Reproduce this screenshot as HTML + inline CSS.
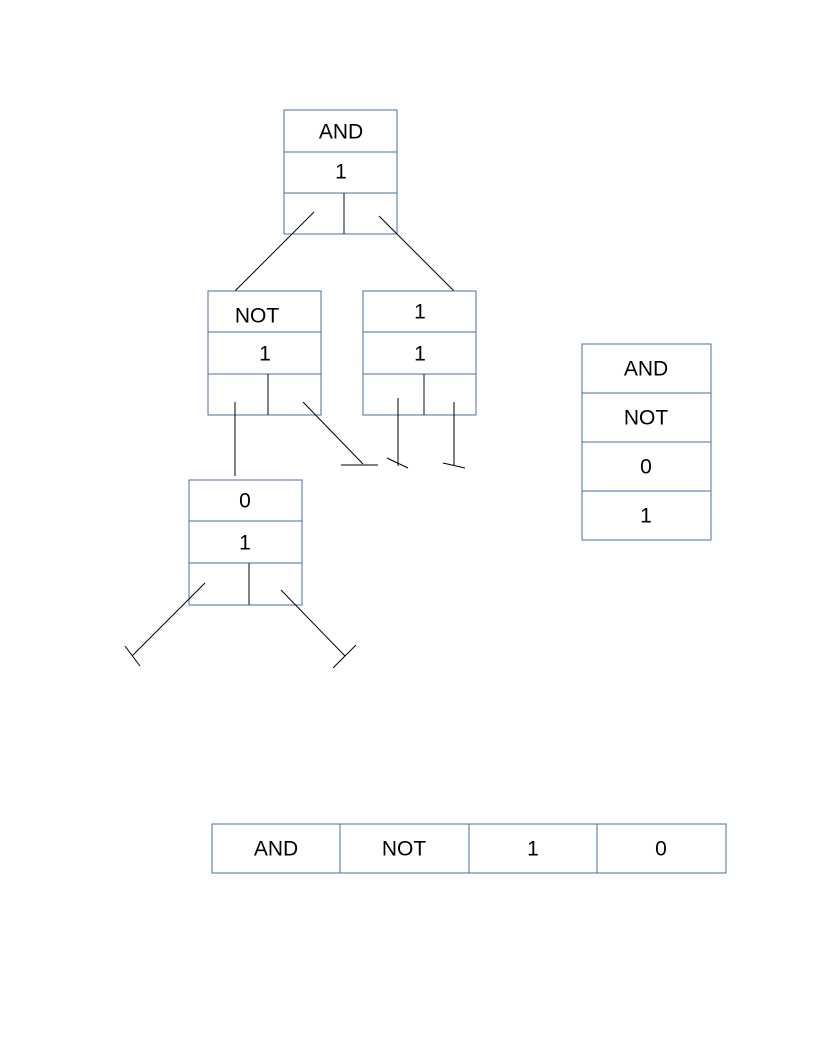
<!DOCTYPE html>
<html><head><meta charset="utf-8"><style>
html,body{margin:0;padding:0;background:#fff}
svg{display:block}
text{font-family:"Liberation Sans",sans-serif;font-size:21px;fill:#000;text-anchor:middle;dominant-baseline:central}
.b{fill:#fff;stroke:#4a6fa5;stroke-width:1}
.l{stroke:#000;stroke-width:1;fill:none}
.d{stroke:#333;stroke-width:1.2}
</style></head><body>
<svg width="816" height="1056" viewBox="0 0 816 1056">
<g>
<rect class="b" x="284" y="110" width="113" height="124"/>
<line class="b" x1="284" y1="152" x2="397" y2="152"/>
<line class="b" x1="284" y1="193" x2="397" y2="193"/>
<line class="d" x1="344" y1="193" x2="344" y2="234"/>
<text x="341" y="132">AND</text><text x="341" y="172">1</text>
</g>
<line class="l" x1="314" y1="212" x2="235" y2="291"/>
<line class="l" x1="379" y1="216" x2="454" y2="291"/>
<g>
<rect class="b" x="208" y="291" width="113" height="124"/>
<line class="b" x1="208" y1="332" x2="321" y2="332"/>
<line class="b" x1="208" y1="374" x2="321" y2="374"/>
<line class="d" x1="268" y1="374" x2="268" y2="415"/>
<text x="257" y="316">NOT</text><text x="265" y="354">1</text>
</g>
<g>
<rect class="b" x="363" y="291" width="113" height="124"/>
<line class="b" x1="363" y1="332" x2="476" y2="332"/>
<line class="b" x1="363" y1="374" x2="476" y2="374"/>
<line class="d" x1="424" y1="374" x2="424" y2="415"/>
<text x="420" y="312">1</text><text x="420" y="354">1</text>
</g>
<line class="l" x1="235" y1="402" x2="235" y2="476"/>
<g>
<line class="l" x1="303" y1="402" x2="363" y2="464"/>
<line class="l" x1="341" y1="465" x2="378" y2="465"/>
</g>
<g>
<line class="l" x1="398" y1="398" x2="398" y2="466"/>
<line class="l" x1="387" y1="458" x2="408" y2="468"/>
</g>
<g>
<line class="l" x1="454" y1="402" x2="454" y2="466"/>
<line class="l" x1="443" y1="463" x2="465" y2="468"/>
</g>
<g>
<rect class="b" x="189" y="480" width="113" height="125"/>
<line class="b" x1="189" y1="521" x2="302" y2="521"/>
<line class="b" x1="189" y1="563" x2="302" y2="563"/>
<line class="d" x1="249" y1="563" x2="249" y2="605"/>
<text x="245" y="501">0</text><text x="245" y="543">1</text>
</g>
<g>
<line class="l" x1="205" y1="583" x2="132" y2="656"/>
<line class="l" x1="125" y1="646" x2="140" y2="666"/>
</g>
<g>
<line class="l" x1="281" y1="590" x2="345" y2="656"/>
<line class="l" x1="333" y1="668" x2="356" y2="645"/>
</g>
<g>
<rect class="b" x="582" y="344" width="129" height="196"/>
<line class="b" x1="582" y1="393" x2="711" y2="393"/>
<line class="b" x1="582" y1="442" x2="711" y2="442"/>
<line class="b" x1="582" y1="491" x2="711" y2="491"/>
<text x="646" y="369">AND</text><text x="646" y="418">NOT</text>
<text x="646" y="467">0</text><text x="646" y="516">1</text>
</g>
<g>
<rect class="b" x="212" y="824" width="514" height="49"/>
<line class="b" x1="340" y1="824" x2="340" y2="873"/>
<line class="b" x1="469" y1="824" x2="469" y2="873"/>
<line class="b" x1="597" y1="824" x2="597" y2="873"/>
<text x="276" y="849">AND</text><text x="404" y="849">NOT</text>
<text x="533" y="849">1</text><text x="661" y="849">0</text>
</g>
</svg>
</body></html>
